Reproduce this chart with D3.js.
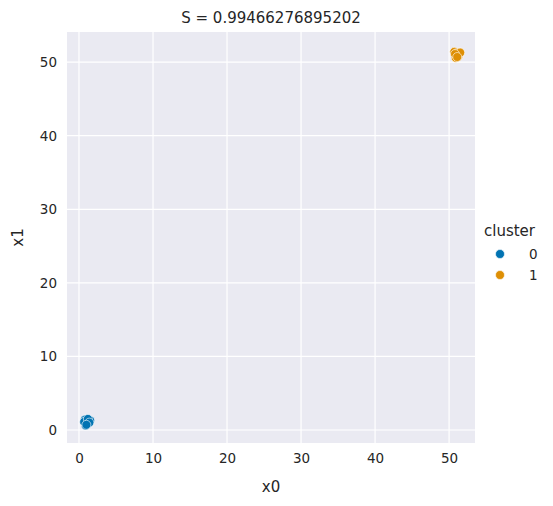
<!DOCTYPE html>
<html><head><meta charset="utf-8">
<script src="https://cdn.jsdelivr.net/npm/d3@7"></script>
<style>body{margin:0;background:#fff;font-family:"DejaVu Sans",sans-serif}</style>
</head><body><svg id="chart" width="553" height="506"></svg>
<script>
const title = "S = 0.99466276895202";
const cluster0X = [0.8, 1.0, 1.3, 0.9, 1.1, 1.5, 0.7, 1.2, 1.4, 1.0];
const cluster0Y = [1.4, 1.2, 0.9, 0.6, 0.8, 1.3, 1.1, 1.5, 1.0, 0.7];
const cluster1X = [50.7, 51.0, 51.3, 50.9, 51.2, 51.5, 50.8, 51.1];
const cluster1Y = [51.4, 51.2, 50.9, 50.6, 50.8, 51.3, 51.1, 50.7];
const clusters = ["0", "1"];
const colors = ["#0173b2", "#de8f05"];
const ticks = [0, 10, 20, 30, 40, 50];

const svg = d3.select("#chart");
const m = {left: 67, right: 475, top: 32, bottom: 443};
const x = d3.scaleLinear().domain([-1.62, 53.5]).range([m.left, m.right]);
const y = d3.scaleLinear().domain([-1.77, 54.1]).range([m.bottom, m.top]);

svg.append("rect").attr("x", m.left).attr("y", m.top)
  .attr("width", m.right - m.left).attr("height", m.bottom - m.top).attr("fill", "#eaeaf2");

const grid = svg.append("g").attr("stroke", "#fff").attr("stroke-width", 1.2);
ticks.forEach(t => {
  grid.append("line").attr("x1", x(t)).attr("x2", x(t)).attr("y1", m.top).attr("y2", m.bottom);
  grid.append("line").attr("y1", y(t)).attr("y2", y(t)).attr("x1", m.left).attr("x2", m.right);
});

const xa = svg.append("g").attr("transform", `translate(0,${m.bottom})`)
  .call(d3.axisBottom(x).tickValues(ticks).tickSize(0).tickPadding(10));
const ya = svg.append("g").attr("transform", `translate(${m.left},0)`)
  .call(d3.axisLeft(y).tickValues(ticks).tickSize(0).tickPadding(10));
[xa, ya].forEach(a => {
  a.select(".domain").remove();
  a.selectAll("text").attr("font-size", 13.5).attr("fill", "#262626").attr("font-family", "DejaVu Sans");
});

svg.append("text").attr("x", (m.left + m.right) / 2).attr("y", 23).attr("text-anchor", "middle")
  .attr("font-size", 15).attr("fill", "#262626").text(title);
svg.append("text").attr("x", (m.left + m.right) / 2).attr("y", 492).attr("text-anchor", "middle")
  .attr("font-size", 15).attr("fill", "#262626").text("x0");
svg.append("text").attr("transform", `translate(23,${(m.top + m.bottom) / 2}) rotate(-90)`)
  .attr("text-anchor", "middle").attr("font-size", 15).attr("fill", "#262626").text("x1");

const pts = [
  ...cluster0X.map((v, i) => ({x: v, y: cluster0Y[i], c: 0})),
  ...cluster1X.map((v, i) => ({x: v, y: cluster1Y[i], c: 1}))
];
svg.append("g").selectAll("circle").data(pts).join("circle")
  .attr("cx", d => x(d.x)).attr("cy", d => y(d.y)).attr("r", 4.5)
  .attr("fill", d => colors[d.c]).attr("stroke", "#fff").attr("stroke-width", 0.6);

const lg = svg.append("g");
lg.append("text").attr("x", 484).attr("y", 236).attr("font-size", 15).attr("fill", "#262626").text("cluster");
clusters.forEach((c, i) => {
  lg.append("circle").attr("cx", 500).attr("cy", 254 + i * 21).attr("r", 4.5)
    .attr("fill", colors[i]).attr("stroke", "#fff").attr("stroke-width", 0.6);
  lg.append("text").attr("x", 529).attr("y", 259 + i * 21).attr("font-size", 13.5).attr("fill", "#262626").text(c);
});
</script></body></html>
